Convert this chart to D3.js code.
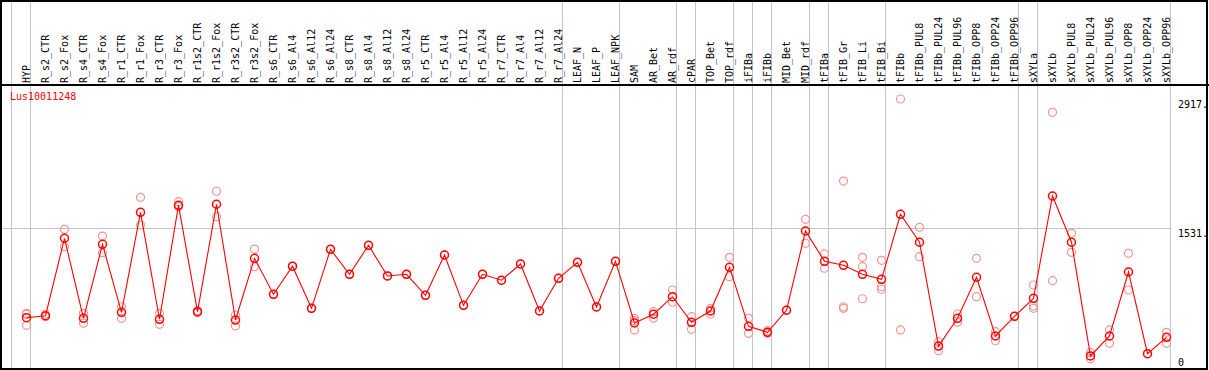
<!DOCTYPE html>
<html>
<head>
<meta charset="utf-8">
<script src="https://cdn.jsdelivr.net/npm/d3@7"></script>
<style>
  html, body { margin: 0; padding: 0; background: #fff; }
  svg { display: block; }
  text { font-family: "DejaVu Sans Mono", monospace; font-size: 10px; }
</style>
</head>
<body>
<svg id="chart" width="1209" height="370"></svg>
<script>
const categories = ["HYP","R_s2_CTR","R_s2_Fox","R_s4_CTR","R_s4_Fox","R_r1_CTR","R_r1_Fox","R_r3_CTR","R_r3_Fox","R_r1s2_CTR","R_r1s2_Fox","R_r3s2_CTR","R_r3s2_Fox","R_s6_CTR","R_s6_Al4","R_s6_Al12","R_s6_Al24","R_s8_CTR","R_s8_Al4","R_s8_Al12","R_s8_Al24","R_r5_CTR","R_r5_Al4","R_r5_Al12","R_r5_Al24","R_r7_CTR","R_r7_Al4","R_r7_Al12","R_r7_Al24","LEAF_N","LEAF_P","LEAF_NPK","SAM","AR_Bet","AR_rdf","cPAR","TOP_Bet","TOP_rdf","iFIBa","iFIBb","MID_Bet","MID_rdf","tFIBa","tFIB_Gr","tFIB_Li","tFIB_Bi","tFIBb","tFIBb_PUL8","tFIBb_PUL24","tFIBb_PUL96","tFIBb_OPP8","tFIBb_OPP24","tFIBb_OPP96","sXYLa","sXYLb","sXYLb_PUL8","sXYLb_PUL24","sXYLb_PUL96","sXYLb_OPP8","sXYLb_OPP24","sXYLb_OPP96"];

// group sizes (separators drawn between groups)
const groupSizes = [1, 28, 3, 3, 1, 2, 1, 1, 2, 1, 3, 7, 1, 7];

// mean expression per sample
const meanValues = [563,584,1418,556,1353,621,1697,546,1773,628,1784,538,1202,815,1117,664,1299,1030,1342,1012,1030,804,1238,696,1030,966,1141,635,987,1159,678,1170,506,600,789,513,635,1105,470,406,643,1496,1170,1127,1030,976,1676,1375,258,556,998,366,578,772,1873,1375,151,366,1055,175,352];

// individual replicates per sample
const replicates = [
  [610,481,598],[603,574],[1514,1327],[610,503],[1442,1263],[681,556],[1859,1561],[610,492],[1812,1758],[638,617],
  [1924,1650],[592,474],[1302,1112],[815],[1117],[664],[1299],[1030],[1342],[1012],
  [1030],[804],[1238],[696],[1030],[966],[1141],[635],[987],[1159],
  [678],[1170],[556,431,531],[628,556],[861,729],[574,438],[664,600],[1213,1004],[556,395],[423,395],
  [643],[1622,1364],[1249,1095],[2034,681,664],[1213,1112,767],[1181,897,869],[2917,431],[1536,1220],[305,208],[603,513],
  [1202,789],[412,315],[578],[915,689,664],[2774,961],[1471,1267],[186,122],[431,287],[1256,861],[175],
  [406,287]
];

const yTickValues = [0, 1531, 2917];
const yTickLabels = ["0", "1531.", "2917."];
const geneName = "Lus10011248";

const W = 1209, H = 370;
const svg = d3.select("#chart");

const x = d3.scaleBand().domain(categories).range([11, 1170]).paddingInner(0).paddingOuter(0);
const px = c => Math.round(x(c)) + 15.5;
const y = d3.scaleLinear().domain([0, 2917]).range([370, 99]);

// separators
const sepIdx = [];
let acc = 0;
groupSizes.forEach(s => { sepIdx.push(acc); acc += s; });
const sepX = sepIdx.map(i => Math.round(x(categories[i])) + 0.5).concat([Math.round(x.range()[1]) + 0.5]);

svg.append("g").selectAll("line").data(sepX).join("line")
  .attr("x1", d => d).attr("x2", d => d)
  .attr("y1", 0).attr("y2", H)
  .attr("stroke", "#c4c4c4").attr("stroke-width", 1);

// horizontal gridline (middle tick)
svg.append("g").selectAll("line").data(yTickValues.filter((v, i) => i === 1)).join("line")
  .attr("x1", 2).attr("x2", 1171)
  .attr("y1", d => Math.round(y(d)) + 0.5).attr("y2", d => Math.round(y(d)) + 0.5)
  .attr("stroke", "#c4c4c4").attr("stroke-width", 1);

// frame
svg.append("rect").attr("x", 1).attr("y", 1).attr("width", 1206).attr("height", 368)
  .attr("fill", "none").attr("stroke", "#000").attr("stroke-width", 2);
svg.append("line").attr("x1", 0).attr("x2", W).attr("y1", 85).attr("y2", 85)
  .attr("stroke", "#000").attr("stroke-width", 2);

// column labels
svg.append("g").selectAll("text").data(categories).join("text")
  .attr("transform", d => `translate(${px(d) + 3.5},83) rotate(-90)`)
  .attr("text-anchor", "start")
  .attr("fill", "#000")
  .text(d => d);

// y tick labels
svg.append("g").selectAll("text").data(yTickValues).join("text")
  .attr("x", 1178)
  .attr("y", (d, i) => i === 0 ? 366 : y(d) + 9)
  .attr("fill", "#000")
  .text((d, i) => yTickLabels[i]);

// gene name
svg.append("text").attr("x", 10).attr("y", 100).attr("fill", "#ff0000").text(geneName);

// replicate circles
const repPts = [];
categories.forEach((c, i) => replicates[i].forEach(v => repPts.push({c, v})));
svg.append("g").selectAll("circle").data(repPts).join("circle")
  .attr("cx", d => px(d.c)).attr("cy", d => y(d.v)).attr("r", 4)
  .attr("fill", "none").attr("stroke", "#f09494").attr("stroke-width", 1.2);

// mean line
const line = d3.line().x((d, i) => px(categories[i])).y(d => y(d));
svg.append("path").datum(meanValues).attr("d", line)
  .attr("fill", "none").attr("stroke", "#ff0000").attr("stroke-width", 1.1);

// mean circles
svg.append("g").selectAll("circle").data(meanValues).join("circle")
  .attr("cx", (d, i) => px(categories[i])).attr("cy", d => y(d)).attr("r", 4)
  .attr("fill", "none").attr("stroke", "#ff0000").attr("stroke-width", 1.5);
</script>
</body>
</html>
